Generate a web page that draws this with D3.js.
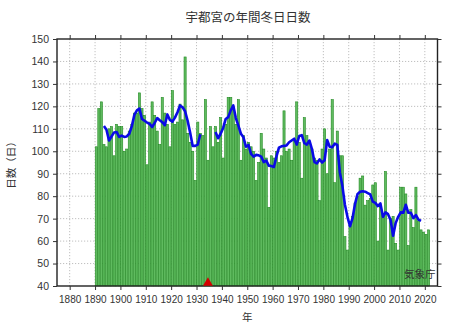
<!DOCTYPE html>
<html>
<head>
<meta charset="utf-8">
<script src="https://cdn.jsdelivr.net/npm/d3@7"></script>
<style>
  html, body { margin: 0; padding: 0; background: #ffffff; }
  svg { display: block; }
  text { font-family: "Liberation Sans", "Noto Sans CJK JP", sans-serif; fill: #333; }
  .jp { font-family: "Noto Sans CJK JP", sans-serif; }
</style>
</head>
<body>
<svg id="chart" width="470" height="327"></svg>
<script>
// Annual number of winter days (daily minimum below 0 °C) at Utsunomiya
const firstYear = 1890;
const winterDays = [
  102, 119, 122, 103, 102, 110, 111,  98, 112, 111,   // 1890-1899
  111, 100, 101, 109, 112, 117, 117, 126, 119, 116,   // 1900-1909
   94, 113, 122, 116, 109, 103, 124, 117, 112, 102,   // 1910-1919
  127, 112, 113, 121, 114, 142, 108, 104, 100,  87,   // 1920-1929
  113, 108, 107, 123,  96, 111, 102, 111, 104, 115,   // 1930-1939
   97, 112, 124, 124, 119, 112, 123,  96, 107, 101,   // 1940-1949
  104, 102, 100,  87,  95, 108, 101,  97,  75,  98,   // 1950-1959
   97, 100,  95,  98, 118, 100, 101,  96, 105, 122,   // 1960-1969
  104,  88, 115, 107, 104, 101,  97,  96,  78, 101,   // 1970-1979
  110,  90, 101, 123,  86, 109,  98,  98,  62,  56,   // 1980-1989
   67,  71,  77,  80,  88,  89,  76,  78,  79,  85,   // 1990-1999
   86,  60,  75,  72,  91,  56,  70,  71,  59,  56,   // 2000-2009
   84,  84,  81,  58,  74,  66,  84,  69,  65,  64,   // 2010-2019
   63,  65                                            // 2020-2021
];
const years = winterDays.map((_, i) => firstYear + i);

// Station relocation; the running mean is not carried across it,
// and incomplete years are left out of the mean
const relocationYear = 1934;
const meanExcludedYears = [1890, 1934, 2021];
const meanWindow = 5;

const yTicks = [40, 50, 60, 70, 80, 90, 100, 110, 120, 130, 140, 150];
const xTicks = [1880, 1890, 1900, 1910, 1920, 1930, 1940, 1950, 1960, 1970, 1980, 1990, 2000, 2010, 2020];

const titleText = "宇都宮の年間冬日日数";
const yAxisLabel = "日数（日）";
const xAxisLabel = "年";
const sourceText = "気象庁";

// ---- layout ----
const svg = d3.select("#chart");
const plot = { left: 57, right: 437.5, top: 39, bottom: 286 };

const x = d3.scaleLinear().domain([1875, 2025]).range([plot.left, plot.right]);
const y = d3.scaleLinear().domain([40, 150]).range([plot.bottom, plot.top]);

// grid
const grid = svg.append("g").attr("stroke", "#b0b0b0").attr("stroke-width", 0.8)
  .attr("stroke-dasharray", "1.2,1.8");
grid.selectAll("line.h").data(yTicks.slice(1, -1)).join("line")
  .attr("x1", plot.left).attr("x2", plot.right)
  .attr("y1", d => y(d)).attr("y2", d => y(d));
grid.selectAll("line.v").data(xTicks).join("line")
  .attr("x1", d => x(d)).attr("x2", d => x(d))
  .attr("y1", plot.top).attr("y2", plot.bottom);

// bars
const slot = x(firstYear + 1) - x(firstYear);
svg.append("g").selectAll("rect").data(years).join("rect")
  .attr("x", d => x(d) + 0.2)
  .attr("width", slot - 0.4)
  .attr("y", (d, i) => y(winterDays[i]))
  .attr("height", (d, i) => y(40) - y(winterDays[i]))
  .attr("fill", "#5fbb5f")
  .attr("stroke", "#238a23")
  .attr("stroke-width", 0.6);

// 5-year running mean, skipping windows that touch excluded years
const half = Math.floor(meanWindow / 2);
const meanPoints = years.map((yr, i) => {
  if (i - half < 0 || i + half >= years.length) return { year: yr, value: null };
  const win = [];
  for (let k = i - half; k <= i + half; k++) {
    if (meanExcludedYears.includes(years[k])) return { year: yr, value: null };
    win.push(winterDays[k]);
  }
  return { year: yr, value: d3.mean(win) };
});
const meanLine = d3.line()
  .defined(d => d.value !== null)
  .x(d => x(d.year + 0.5))
  .y(d => y(d.value));
svg.append("path").datum(meanPoints)
  .attr("d", meanLine)
  .attr("fill", "none")
  .attr("stroke", "#0a0ae6")
  .attr("stroke-width", 2.6)
  .attr("stroke-linejoin", "round");

// frame
svg.append("rect")
  .attr("x", plot.left).attr("y", plot.top)
  .attr("width", plot.right - plot.left).attr("height", plot.bottom - plot.top)
  .attr("fill", "none").attr("stroke", "#222").attr("stroke-width", 1.4);

// axes (ticks on all four sides)
const tk = 4;
const fmtAxis = g => { g.select(".domain").remove(); g.selectAll(".tick line").attr("stroke", "#333"); };
svg.append("g").attr("transform", `translate(0,${plot.bottom})`)
  .call(d3.axisBottom(x).tickValues(xTicks).tickFormat(d3.format("d")).tickSize(tk).tickPadding(6))
  .call(fmtAxis)
  .call(g => g.selectAll("text").attr("font-size", 10).attr("fill", "#333"));
svg.append("g").attr("transform", `translate(0,${plot.top})`)
  .call(d3.axisTop(x).tickValues(xTicks).tickFormat("").tickSize(tk))
  .call(fmtAxis);
svg.append("g").attr("transform", `translate(${plot.left},0)`)
  .call(d3.axisLeft(y).tickValues(yTicks).tickSize(tk).tickPadding(4))
  .call(fmtAxis)
  .call(g => g.selectAll("text").attr("font-size", 10.5).attr("fill", "#333"));
svg.append("g").attr("transform", `translate(${plot.right},0)`)
  .call(d3.axisRight(y).tickValues(yTicks).tickFormat("").tickSize(tk))
  .call(fmtAxis);

// relocation marker
svg.append("path")
  .attr("d", d3.symbol(d3.symbolTriangle, 42)())
  .attr("transform", `translate(${x(relocationYear + 0.5)},${plot.bottom - 3})`)
  .attr("fill", "#d40000");

// texts
svg.append("text").attr("class", "jp")
  .attr("x", 248).attr("y", 22).attr("text-anchor", "middle")
  .attr("font-size", 12.5).text(titleText);
svg.append("text").attr("class", "jp")
  .attr("transform", `translate(15,${(plot.top + plot.bottom) / 2}) rotate(-90)`)
  .attr("text-anchor", "middle").attr("font-size", 10.5).text(yAxisLabel);
svg.append("text").attr("class", "jp")
  .attr("x", (plot.left + plot.right) / 2).attr("y", 321).attr("text-anchor", "middle")
  .attr("font-size", 10.5).text(xAxisLabel);
svg.append("text").attr("class", "jp")
  .attr("x", plot.right - 2).attr("y", 278).attr("text-anchor", "end")
  .attr("font-size", 10.5).text(sourceText);
</script>
</body>
</html>
